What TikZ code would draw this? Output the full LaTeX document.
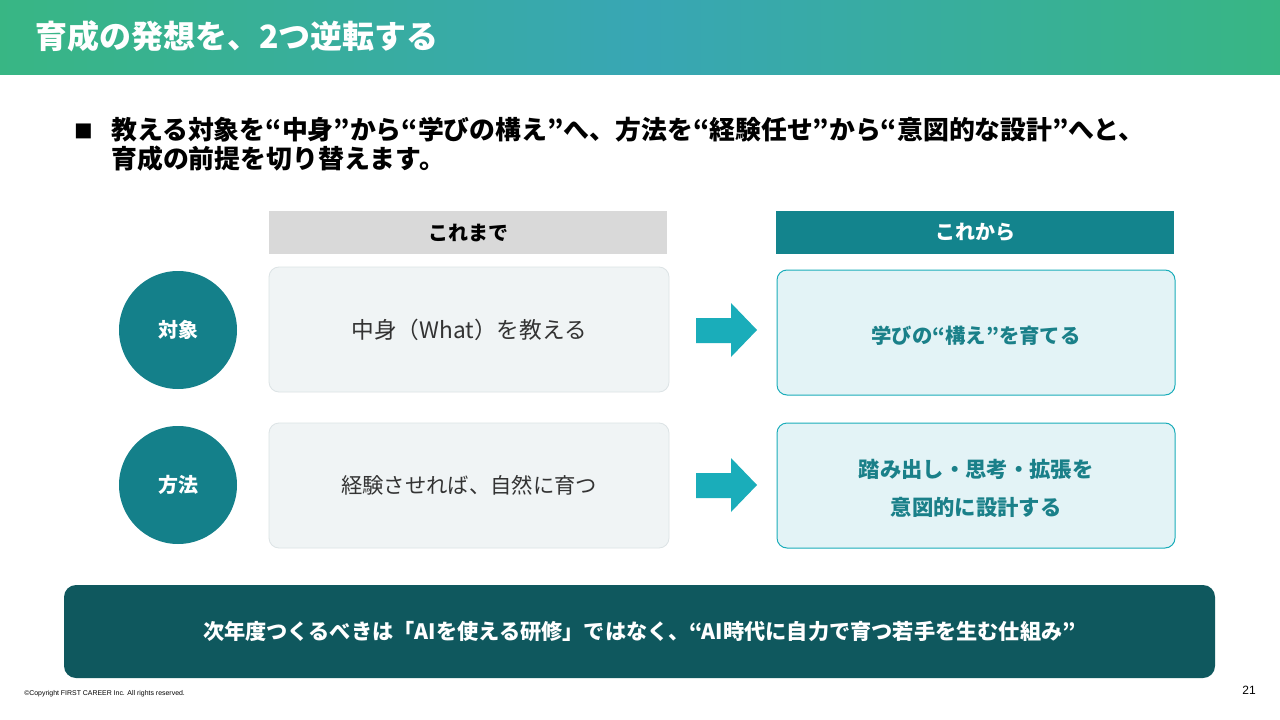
\documentclass[tikz,border=0pt]{standalone}
\usepackage{fontspec}
\setmainfont{Noto Sans CJK JP}
\newfontfamily\jp{Noto Sans CJK JP}
\newfontfamily\lat{Liberation Sans}
\definecolor{gA}{HTML}{38B684}
\definecolor{gB}{HTML}{38A6B4}
\definecolor{circ}{HTML}{14808A}
\definecolor{headteal}{HTML}{13848D}
\definecolor{headgray}{HTML}{D9D9D9}
\definecolor{rtext}{HTML}{1A8089}
\definecolor{arrowc}{HTML}{1AADBA}
\definecolor{rfill}{HTML}{E3F3F6}
\definecolor{lfill}{HTML}{F0F4F5}
\definecolor{lborder}{HTML}{DCE3E5}
\definecolor{banner}{HTML}{0F585E}
\definecolor{dtext}{HTML}{333333}
\tikzset{
  leftbox/.style={draw=lborder, line width=0.6pt, fill=lfill, rounded corners=7.5pt, minimum width=300pt, minimum height=93.75pt, inner sep=0pt},
  rightbox/.style={draw=arrowc, line width=0.75pt, fill=rfill, rounded corners=7.5pt, minimum width=298.5pt, minimum height=93.75pt, inner sep=0pt},
  righttext/.style={inner sep=0pt, text=rtext, font=\jp\fontsize{16}{28.5}\selectfont\bfseries, align=center},
  headbox/.style={minimum width=298.5pt, minimum height=32.25pt, inner sep=0pt, font=\jp\fontsize{15}{18}\selectfont\bfseries},
  circnode/.style={circle, fill=circ, minimum size=88.5pt, inner sep=0pt, text=white, font=\jp\fontsize{15}{18}\selectfont\bfseries},
  blockarrow/.style={fill=arrowc},
}
\begin{document}
\begin{tikzpicture}[x=0.75pt, y=-0.75pt]
\useasboundingbox (0,0) rectangle (1280,720);
\fill[white] (0,0) rectangle (1280,720);
% title bar
\shade[left color=gA, right color=gA, middle color=gB] (0,0) rectangle (1280,75);
\node[anchor=west, text=white, font=\jp\fontsize{24}{28}\selectfont\bfseries, inner sep=0pt] (title) at (35,36) {育成の発想を、2つ逆転する};
% bullet
\node[anchor=west, inner sep=0pt, font=\jp\fontsize{14}{16}\selectfont] (bul) at (74,131) {■};
\node[anchor=north west, inner sep=0pt, align=left, font=\jp\fontsize{19.4}{21.75}\selectfont\bfseries] (lead) at (111,117) {教える対象を“中身”から“学びの構え”へ、方法を“経験任せ”から“意図的な設計”へと、\\育成の前提を切り替えます。};
% headers
\node[headbox, fill=headgray, text=black] (h1) at (468,232.5) {これまで};
\node[headbox, fill=headteal, text=white] (h2) at (975,232.5) {これから};
% circles
\node[circnode] (c1) at (178,330) {対象};
\node[circnode] (c2) at (178,485) {方法};
% left boxes
\node[leftbox, text=dtext, font=\jp\fontsize{17}{20}\selectfont] (l1) at (469,329.5) {中身（What）を教える};
\node[leftbox, text=dtext, font=\jp\fontsize{16}{20}\selectfont] (l2) at (469,485.5) {経験させれば、自然に育つ};
% right boxes
\node[rightbox] (r1) at (976,332.5) {};
\node[righttext, font=\jp\fontsize{15.3}{20}\selectfont\bfseries] (r1t) at ([yshift=-2.5pt]r1.center) {学びの“構え”を育てる};
\node[rightbox] (r2) at (976,485.5) {};
\node[righttext] (r2t) at ([yshift=-2.5pt]r2.center) {踏み出し・思考・拡張を\\意図的に設計する};
% arrows
\fill[blockarrow] (696,318) -- (731,318) -- (731,303) -- (757,330) -- (731,357) -- (731,343) -- (696,343) -- cycle;
\fill[blockarrow] (696,473) -- (731,473) -- (731,458) -- (757,485) -- (731,512) -- (731,498) -- (696,498) -- cycle;
% banner
\node[fill=banner, rounded corners=9pt, minimum width=863.25pt, minimum height=69.75pt, inner sep=0pt, text=white, font=\jp\fontsize{15.9}{18}\selectfont\bfseries] (ban) at (639.5,631.5) {次年度つくるべきは「AIを使える研修」ではなく、“AI時代に自力で育つ若手を生む仕組み”};
% footer
\node[anchor=west, inner sep=0pt, font=\lat\fontsize{5.2}{6}\selectfont] (copy) at (24,694) {©Copyright FIRST CAREER Inc. All rights reserved.};
\node[inner sep=0pt, font=\lat\fontsize{9}{10}\selectfont] (pg) at (1249,690) {21};
\end{tikzpicture}
\end{document}
